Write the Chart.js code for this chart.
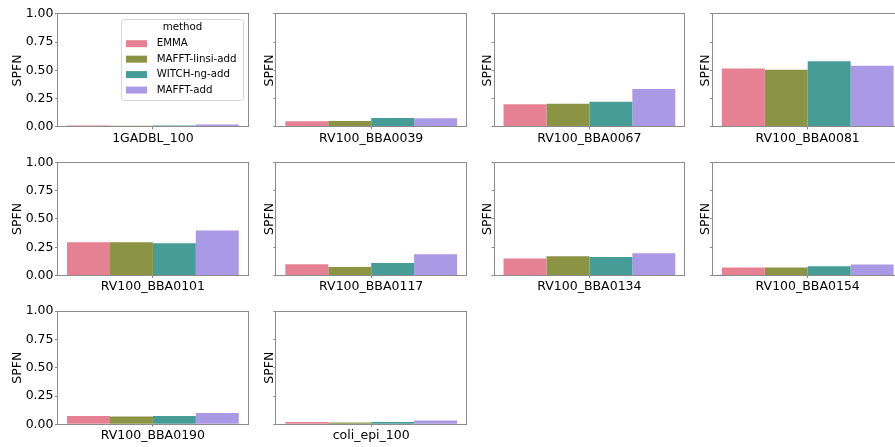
<!DOCTYPE html>
<html>
<head>
<meta charset="utf-8">
<title>SPFN by method</title>
<script src="https://cdn.jsdelivr.net/npm/chart.js@4.4.1/dist/chart.umd.min.js"></script>
<style>
  html, body { margin: 0; padding: 0; background: #fff; overflow: hidden; }
  #grid { position: relative; width: 895px; height: 447px; overflow: hidden; }
  #grid canvas { position: absolute; left: 0; top: 0; }
</style>
</head>
<body>
<div id="grid"></div>
<script>
// Data
const methods = ['EMMA', 'MAFFT-linsi-add', 'WITCH-ng-add', 'MAFFT-add'];
const methodColors = ['#e58192', '#8a9444', '#469d97', '#aa99e5'];
const panels = ['1GADBL_100', 'RV100_BBA0039', 'RV100_BBA0067', 'RV100_BBA0081', 'RV100_BBA0101',
  'RV100_BBA0117', 'RV100_BBA0134', 'RV100_BBA0154', 'RV100_BBA0190', 'coli_epi_100'];
const emma = [0.013, 0.050, 0.200, 0.517, 0.295, 0.100, 0.150, 0.071, 0.074, 0.020];
const mafftLinsi = [0.010, 0.053, 0.205, 0.505, 0.295, 0.077, 0.171, 0.071, 0.068, 0.016];
const witchNg = [0.013, 0.079, 0.223, 0.581, 0.286, 0.112, 0.165, 0.083, 0.074, 0.020];
const mafftAdd = [0.021, 0.077, 0.335, 0.540, 0.398, 0.189, 0.198, 0.097, 0.100, 0.033];
const series = [emma, mafftLinsi, witchNg, mafftAdd];
const yTicks = [0, 0.25, 0.5, 0.75, 1];

// Layout of the small multiples (plot areas in page pixels)
const colLeft = [57.5, 275.8, 494.0, 712.3];
const rowTop = [13.8, 162.4, 311.1];
const plotW = 190.8;
const plotH = 113.2;
const canvasW = 910;
const canvasH = 447;
const FONT = 'DejaVu Sans';
const SPINE = '#8c8c8c';

const grid = document.getElementById('grid');

function align(x) {
  return Math.round(x - 0.5) + 0.5;
}

// Box around each plot area
const framePlugin = {
  id: 'frame',
  afterDraw(chart) {
    const { ctx, chartArea: a } = chart;
    const l = align(a.left), t = align(a.top), r = align(a.right), b = align(a.bottom);
    ctx.save();
    ctx.strokeStyle = SPINE;
    ctx.lineWidth = 1;
    ctx.strokeRect(l, t, r - l, b - t);
    ctx.restore();
  }
};

// Legend with title, drawn inside the first panel
const legendPlugin = {
  id: 'methodLegend',
  afterDraw(chart, args, opts) {
    if (!opts.show) return;
    const { ctx, chartArea: a } = chart;
    const x0 = a.left + 64.2, x1 = a.right - 5;
    const y0 = a.top + 5.5, y1 = a.top + 86.2;
    ctx.save();
    ctx.fillStyle = 'rgba(255,255,255,0.8)';
    ctx.strokeStyle = '#d6d6d6';
    ctx.lineWidth = 1;
    ctx.beginPath();
    ctx.roundRect(align(x0), align(y0), Math.round(x1 - x0), Math.round(y1 - y0), 3);
    ctx.fill();
    ctx.stroke();

    ctx.font = '10.25px "' + FONT + '"';
    ctx.fillStyle = '#000';
    ctx.textBaseline = 'middle';
    ctx.textAlign = 'center';
    ctx.fillText('method', (x0 + x1) / 2, a.top + 13.8);

    ctx.textAlign = 'left';
    chart.data.datasets.forEach((ds, k) => {
      const cy = a.top + 29.9 + k * 15.45;
      ctx.fillStyle = ds.backgroundColor;
      ctx.fillRect(x0 + 4.3, cy - 3.5, 21, 7);
      ctx.fillStyle = '#000';
      ctx.fillText(ds.label, x0 + 35, cy);
    });
    ctx.restore();
  }
};

panels.forEach((name, i) => {
  const col = i % 4;
  const row = Math.floor(i / 4);
  const first = col === 0;
  const axisW = first ? 47.2 : 13.8;
  const axisH = 30;
  const left = colLeft[col];
  const top = rowTop[row];

  const canvas = document.createElement('canvas');
  canvas.width = canvasW;
  canvas.height = canvasH;
  grid.appendChild(canvas);

  const tickFont = { family: FONT, size: 12.5 };
  const gridOpts = { offset: false, drawOnChartArea: false, drawTicks: true, tickLength: 2.5, color: SPINE, lineWidth: 1 };

  new Chart(canvas, {
    type: 'bar',
    data: {
      labels: [name],
      datasets: methods.map((m, k) => ({
        label: m,
        data: [series[k][i]],
        backgroundColor: methodColors[k],
        categoryPercentage: 0.9,
        barPercentage: 1.0
      }))
    },
    options: {
      responsive: false,
      animation: false,
      devicePixelRatio: 1,
      events: [],
      layout: {
        padding: {
          left: left - axisW,
          top: top,
          right: canvasW - left - plotW,
          bottom: canvasH - top - plotH - axisH
        }
      },
      plugins: {
        legend: { display: false },
        tooltip: { enabled: false },
        methodLegend: { show: i === 0 }
      },
      scales: {
        x: {
          offset: true,
          grid: gridOpts,
          border: { display: false },
          ticks: { color: '#000', font: tickFont, padding: 1.5, maxRotation: 0, autoSkip: false },
          afterFit: (s) => { s.height = axisH; }
        },
        y: {
          min: 0,
          max: 1,
          afterBuildTicks: (s) => { s.ticks = yTicks.map(v => ({ value: v })); },
          grid: gridOpts,
          border: { display: false },
          ticks: {
            color: '#000',
            font: tickFont,
            padding: 1.5,
            callback: (v) => first ? v.toFixed(2) : ''
          },
          title: { display: true, text: 'SPFN', color: '#000', font: tickFont, padding: 0 },
          afterFit: (s) => { s.width = axisW; }
        }
      }
    },
    plugins: [framePlugin, legendPlugin]
  });
});
</script>
</body>
</html>
